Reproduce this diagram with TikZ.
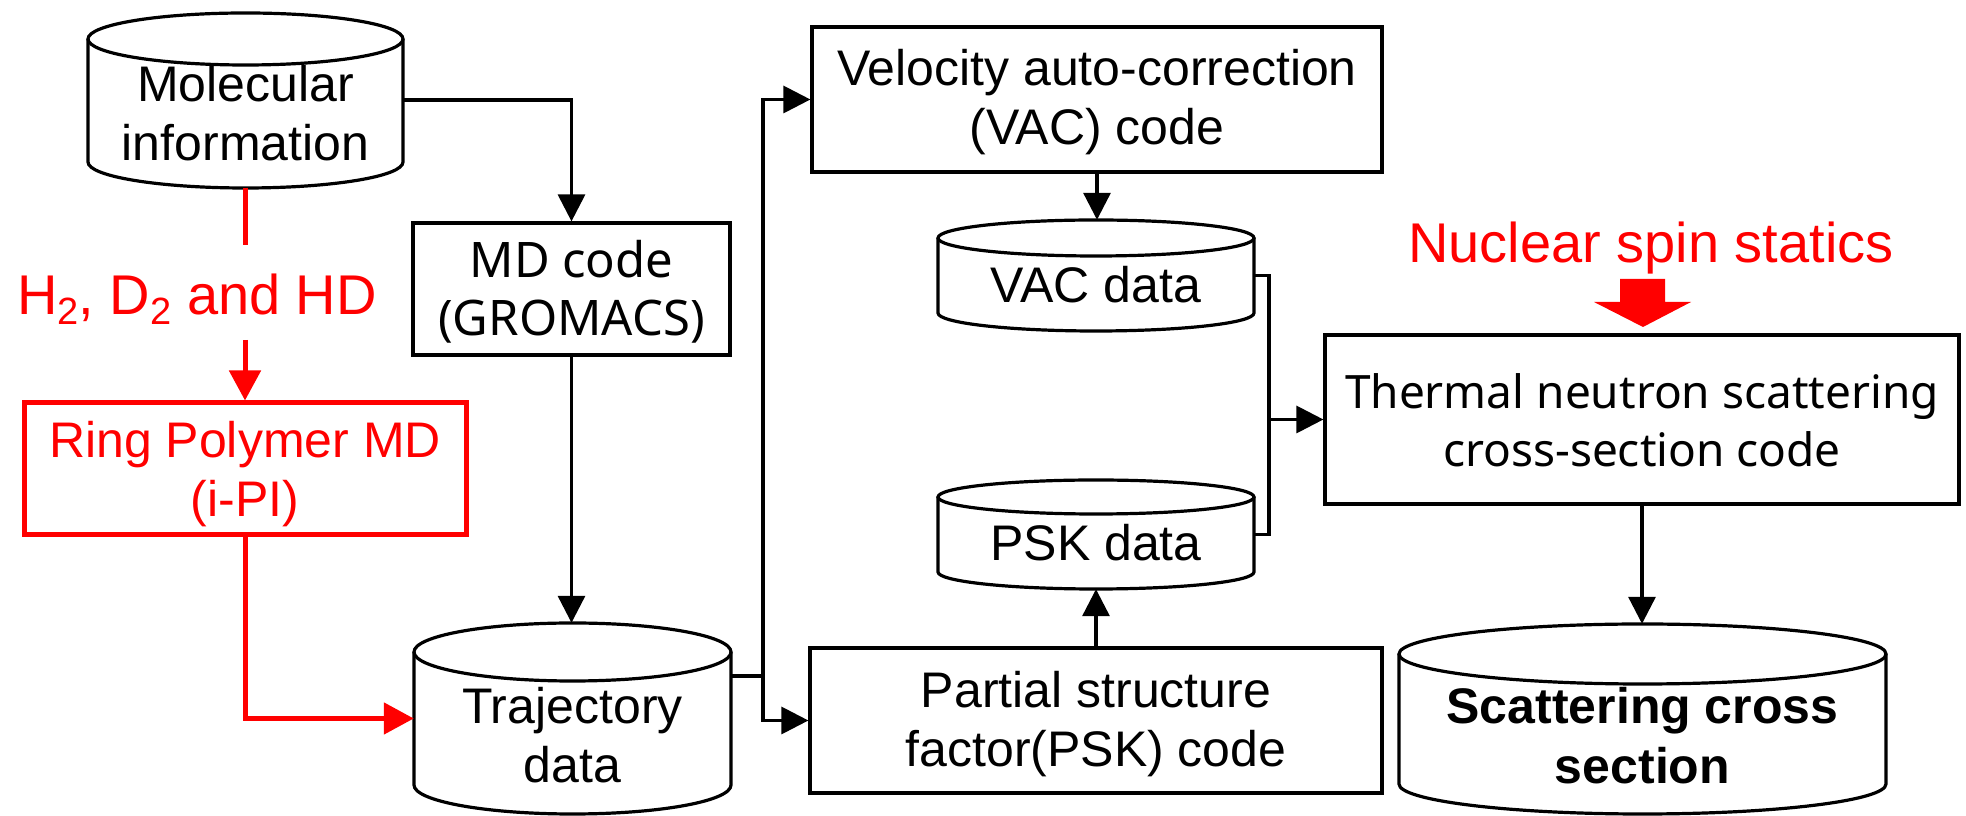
\documentclass[tikz,border=0pt]{standalone}
\usepackage{fontspec}
\setmainfont{Liberation Sans}
\newfontfamily\aptos{Noto Sans}
\usetikzlibrary{arrows.meta}
\definecolor{myred}{RGB}{255,0,0}
\newcommand\mysub[1]{\raisebox{-10pt}{\fontsize{38}{38}\selectfont #1}}
\newcommand\mycyl[5]{%
  \draw[blk] (#1,#3) -- (#1,#4) arc[start angle=180,end angle=360,x radius={(#2-#1)/2*1pt},y radius=#5pt] -- (#2,#3);
  \draw[blk] ({(#1+#2)/2},#3) ellipse[x radius={(#2-#1)/2*1pt},y radius=#5pt];}
\tikzset{
  blk/.style={line width=3.2pt, draw=black},
  arr/.style={blk, -{Triangle[length=27pt,width=27pt]}},
  redl/.style={line width=5pt, draw=myred},
  redarr/.style={redl, -{Triangle[length=30pt,width=31pt]}},
  box/.style={draw, line width=3.2pt, rectangle, inner sep=0pt},
  bb/.style={rectangle, inner sep=0pt, draw=none},
  txt/.style={inner sep=0pt, align=center, font=\fontsize{50}{59}\selectfont, anchor=north},
  atxt/.style={inner sep=0pt, align=center, font=\aptos\fontsize{46}{58}\selectfont, anchor=north},
}
\begin{document}
\begin{tikzpicture}[x=1pt,y=1pt]
\useasboundingbox (0,0) rectangle (1966,816);
% Molecular information
\node[bb, minimum width=315pt, minimum height=175pt] (mol) at (245.5,716) {};
\mycyl{88}{403}{777}{654}{26}
\node[txt] (molt) at (245.5,751) {Molecular\\information};
% MD code
\node[box, minimum width=317pt, minimum height=132pt] (md) at (571.5,527) {};
\node[atxt, font=\aptos\fontsize{49}{58}\selectfont] (mdt) at (571.5,576) {MD code\\(GROMACS)};
\draw[arr] (mol.east) -| (md.north);
% red branch
\node[box, draw=myred, line width=5pt, minimum width=442pt, minimum height=132pt] (rpmd) at (245,347) {};
\node[txt, text=myred] (rpmdt) at (245,395) {Ring Polymer MD\\(i-PI)};
\node[inner sep=0pt, anchor=base west, text=myred, font=\fontsize{56}{60}\selectfont] (h2) at (17,501) {H\mysub{2}, D\mysub{2} and HD};
\coordinate (r1) at (245,571);
\coordinate (r2) at (245,476);
\draw[redl] (r1 |- mol.south) -- (r1);
\draw[redarr] (r2) -- (rpmd.north);
% Trajectory
\node[bb, minimum width=317pt, minimum height=191pt] (traj) at (572.5,97.5) {};
\mycyl{414}{731}{164}{31}{29}
\node[txt] (trajt) at (572.5,129) {Trajectory\\data};
\draw[redarr] (rpmd.south) |- (traj.west);
\draw[arr] (md.south) -- (md.south |- traj.north);
% VAC / PSK
\node[box, minimum width=570pt, minimum height=145pt] (vac) at (1097,716.5) {};
\node[txt] (vact) at (1097,767) {Velocity auto-correction\\(VAC) code};
\node[bb, minimum width=316pt, minimum height=111pt] (vacd) at (1096,540.5) {};
\mycyl{938}{1254}{578}{503}{18}
\node[txt] (vacdt) at (1096,550) {VAC data};
\node[bb, minimum width=316pt, minimum height=109pt] (pskd) at (1096,281.5) {};
\mycyl{938}{1254}{319}{244}{17}
\node[txt] (pskdt) at (1096,292) {PSK data};
\node[box, minimum width=572pt, minimum height=145pt] (psk) at (1096,95.5) {};
\node[txt] (pskt) at (1096,145) {Partial structure\\factor(PSK) code};
\draw[arr] (vac.south) -- (vac.south |- vacd.north);
\draw[arr] (psk.north) -- (psk.north |- pskd.south);
% junction after trajectory
\coordinate (j1) at (763,140);
\draw[blk] (traj.east |- j1) -- (j1);
\draw[arr] (j1) |- (vac.west);
\draw[arr] (j1) |- (psk.west);
% Thermal
\node[box, minimum width=634pt, minimum height=169pt] (th) at (1642,396.5) {};
\node[atxt] (tht) at (1642,443) {Thermal neutron scattering\\cross-section code};
\coordinate (j2) at (1269,396.5);
\draw[blk] (vacd.east) -| (j2 |- pskd.east) -- (pskd.east);
\draw[arr] (j2) -- (th.west);
% Scattering cross section
\node[bb, minimum width=487pt, minimum height=192pt] (sc) at (1642.5,96) {};
\mycyl{1399}{1886}{162}{32}{30}
\node[txt, font=\bfseries\fontsize{50}{60}\selectfont] (sct) at (1642.5,129) {Scattering cross\\section};
\draw[arr] (th.south) -- (th.south |- sc.north);
% Nuclear spin statics
\node[inner sep=0pt, anchor=base, text=myred, font=\fontsize{56}{60}\selectfont] (nss) at (1651,553) {Nuclear spin statics};
\fill[myred] (1620,537) -- (1665,537) -- (1665,514) -- (1691,514) -- (1643,489) -- (1594,514) -- (1620,514) -- cycle;
\end{tikzpicture}
\end{document}
